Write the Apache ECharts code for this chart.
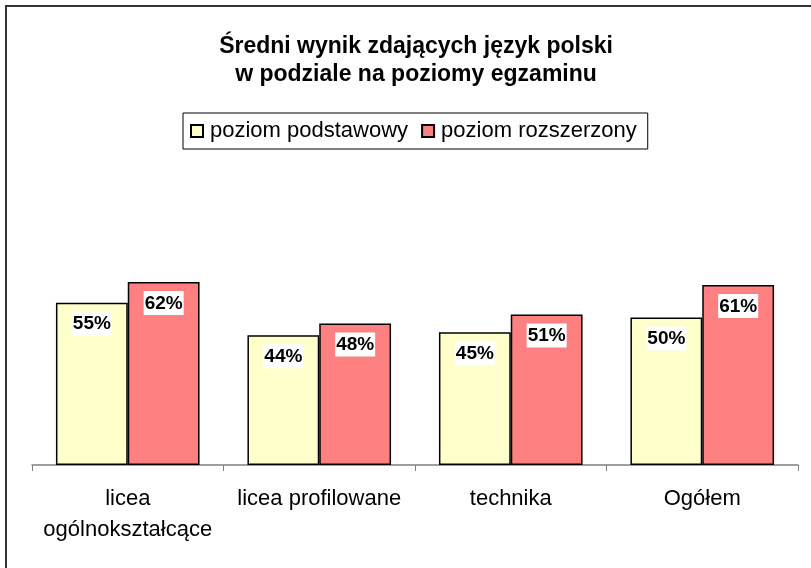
<!DOCTYPE html>
<html>
<head>
<meta charset="utf-8">
<script src="https://cdn.jsdelivr.net/npm/echarts@6/dist/echarts.min.js"></script>
<style>
  html, body { margin: 0; padding: 0; background: #fff; }
  #chart { width: 811px; height: 568px; }
</style>
</head>
<body>
<div id="chart"></div>
<script>
const categories = ['licea\nogólnokształcące', 'licea profilowane', 'technika', 'Ogółem']
const seriesNames = ['poziom podstawowy', 'poziom rozszerzony']
const basicValues = [55, 44, 45, 50]
const extendedValues = [62, 48, 51, 61]

const chart = echarts.init(document.getElementById('chart'))

const barLabel = {
  show: true,
  position: 'insideTop',
  distance: 9,
  formatter: p => p.value + '%',
  fontFamily: 'Liberation Sans, Arial, sans-serif',
  fontWeight: 'bold',
  fontSize: 19,
  color: '#000',
  backgroundColor: '#fff',
  padding: [3, 1, 2, 1]
}

const option = {
  animation: false,
  textStyle: { fontFamily: 'Liberation Sans, Arial, sans-serif' },
  // frame around the chart area (right/bottom edges fall outside the picture)
  graphic: [{
    type: 'rect',
    shape: { x: 6, y: 6, width: 900, height: 900 },
    style: { fill: 'none', stroke: '#333', lineWidth: 2 },
    silent: true
  }],
  title: {
    text: 'Średni wynik zdających język polski\nw podziale na poziomy egzaminu',
    left: 411,
    top: 28,
    textAlign: 'center',
    textStyle: {
      fontSize: 23,
      fontWeight: 'bold',
      lineHeight: 28,
      color: '#000'
    }
  },
  legend: {
    top: 113,
    left: 183,
    data: seriesNames,
    itemWidth: 12,
    itemHeight: 12,
    itemGap: 13,
    borderColor: '#000',
    borderWidth: 1,
    padding: [7, 11, 7, 7],
    textStyle: { fontSize: 22, color: '#000', padding: [0, 0, 0, 2] },
    icon: 'rect'
  },
  grid: {
    left: 32,
    right: 13,
    top: 170,
    bottom: 103
  },
  xAxis: {
    type: 'category',
    data: categories,
    axisLine: { lineStyle: { color: '#808080', width: 1.5 } },
    axisTick: { show: true, interval: 0, length: 6, lineStyle: { color: '#808080' } },
    axisLabel: {
      interval: 0,
      hideOverlap: false,
      fontSize: 22,
      color: '#000',
      margin: 18,
      lineHeight: 31
    }
  },
  yAxis: {
    type: 'value',
    min: 0,
    max: 100,
    show: false,
    splitLine: { show: false }
  },
  series: [
    {
      name: seriesNames[0],
      type: 'bar',
      data: basicValues,
      barGap: '0%',
      barCategoryGap: '25%',
      itemStyle: { color: '#FFFFCC', borderColor: '#000', borderWidth: 1.5 },
      label: barLabel
    },
    {
      name: seriesNames[1],
      type: 'bar',
      data: extendedValues,
      itemStyle: { color: '#FF8080', borderColor: '#000', borderWidth: 1.5 },
      label: barLabel
    }
  ]
}

chart.setOption(option)
</script>
</body>
</html>
